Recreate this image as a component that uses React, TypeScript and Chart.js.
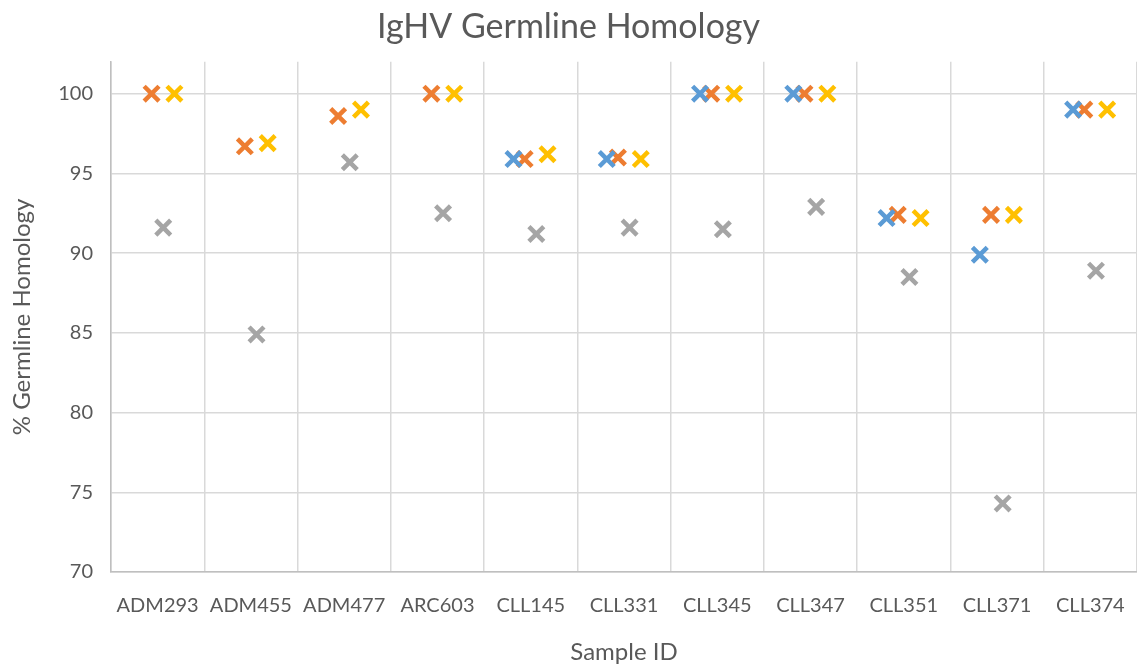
import React, { useEffect, useRef } from "react";
import { Chart, registerables } from "chart.js";

Chart.register(...registerables);

const categories = ["ADM293", "ADM455", "ADM477", "ARC603", "CLL145", "CLL331", "CLL345", "CLL347", "CLL351", "CLL371", "CLL374"];
const seriesBlue: (number | null)[] = [null, null, null, null, 95.9, 95.9, 100, 100, 92.2, 89.9, 99.0];
const seriesOrange: (number | null)[] = [100, 96.7, 98.6, 100, 95.9, 96.0, 100, 100, 92.4, 92.4, 99.0];
const seriesGray: (number | null)[] = [91.6, 84.9, 95.7, 92.5, 91.2, 91.6, 91.5, 92.9, 88.5, 74.3, 88.9];
const seriesYellow: (number | null)[] = [100, 96.9, 99.0, 100, 96.2, 95.9, 100, 100, 92.2, 92.4, 99.0];
const yTicks = [70, 75, 80, 85, 90, 95, 100];

const FONT = "Lato, 'Open Sans', sans-serif";
const TEXT = "#595959";

function points(vals: (number | null)[], offset: number) {
  const out: { x: number; y: number }[] = [];
  vals.forEach((v, i) => {
    if (v !== null) out.push({ x: i + 1 + offset, y: v });
  });
  return out;
}

export default function App() {
  const ref = useRef<HTMLCanvasElement | null>(null);
  useEffect(() => {
    if (!ref.current) return;
    const mk = (label: string, vals: (number | null)[], off: number, color: string) => ({
      label,
      data: points(vals, off),
      showLine: false,
      pointStyle: "crossRot" as const,
      pointRadius: 10.5,
      pointHoverRadius: 10.5,
      borderWidth: 4.5,
      pointBorderWidth: 4.5,
      borderColor: color,
      backgroundColor: color,
    });
    const chart = new Chart(ref.current, {
      type: "scatter",
      data: {
        datasets: [
          mk("Series 1", seriesBlue, -0.185, "#5B9BD5"),
          mk("Series 2", seriesOrange, -0.065, "#ED7D31"),
          mk("Series 3", seriesGray, 0.06, "#A5A5A5"),
          mk("Series 4", seriesYellow, 0.18, "#FFC000"),
        ],
      },
      options: {
        animation: false,
        responsive: false,
        maintainAspectRatio: false,
        layout: { autoPadding: false, padding: { top: 0, right: 0, bottom: 0, left: 0 } },
        plugins: {
          legend: { display: false },
          tooltip: { enabled: false },
          title: {
            display: true,
            text: "IgHV Germline Homology",
            color: TEXT,
            font: { family: FONT, size: 34, weight: "normal" },
            padding: { top: 7, bottom: 14 },
          },
        },
        scales: {
          x: {
            type: "linear",
            min: 0.5,
            max: 11.5,
            afterBuildTicks: (scale: any) => {
              const t = [];
              for (let v = 0.5; v <= 11.5; v += 0.5) t.push({ value: v });
              scale.ticks = t;
            },
            afterFit: (scale: any) => {
              scale.height = 99;
              scale.paddingRight = 0;
              scale.paddingLeft = 0;
            },
            grid: {
              drawTicks: false,
              lineWidth: 1.5,
              color: (ctx: any) =>
                ctx.tick && Number.isInteger(ctx.tick.value) ? "rgba(0,0,0,0)" : "#D9D9D9",
            },
            border: { color: "#BFBFBF", width: 1.5 },
            ticks: {
              autoSkip: false,
              maxRotation: 0,
              padding: 22,
              color: TEXT,
              font: { family: FONT, size: 20 },
              callback: (value: any) =>
                Number.isInteger(value) ? categories[value - 1] : "",
            },
            title: {
              display: true,
              text: "Sample ID",
              color: TEXT,
              font: { family: FONT, size: 24 },
              padding: { top: 13 },
            },
          },
          y: {
            type: "linear",
            min: 70,
            max: 102,
            afterBuildTicks: (scale: any) => {
              scale.ticks = yTicks.map((v) => ({ value: v }));
            },
            afterFit: (scale: any) => {
              scale.width = 111;
              scale.paddingTop = 0;
              scale.paddingBottom = 0;
            },
            grid: { drawTicks: false, lineWidth: 1.5, color: "#D9D9D9" },
            border: { color: "#BFBFBF", width: 1.5 },
            ticks: {
              padding: 18,
              color: TEXT,
              font: { family: FONT, size: 20 },
            },
            title: {
              display: true,
              text: "% Germline Homology",
              color: TEXT,
              font: { family: FONT, size: 24 },
              padding: { top: 8, bottom: 10 },
            },
          },
        },
      },
    });
    return () => chart.destroy();
  }, []);
  return (
    <div style={{ position: "absolute", left: 0, top: 0, width: 1137, height: 671, background: "#fff" }}>
      <canvas ref={ref} width={1137} height={671} style={{ width: 1137, height: 671 }} />
    </div>
  );
}
